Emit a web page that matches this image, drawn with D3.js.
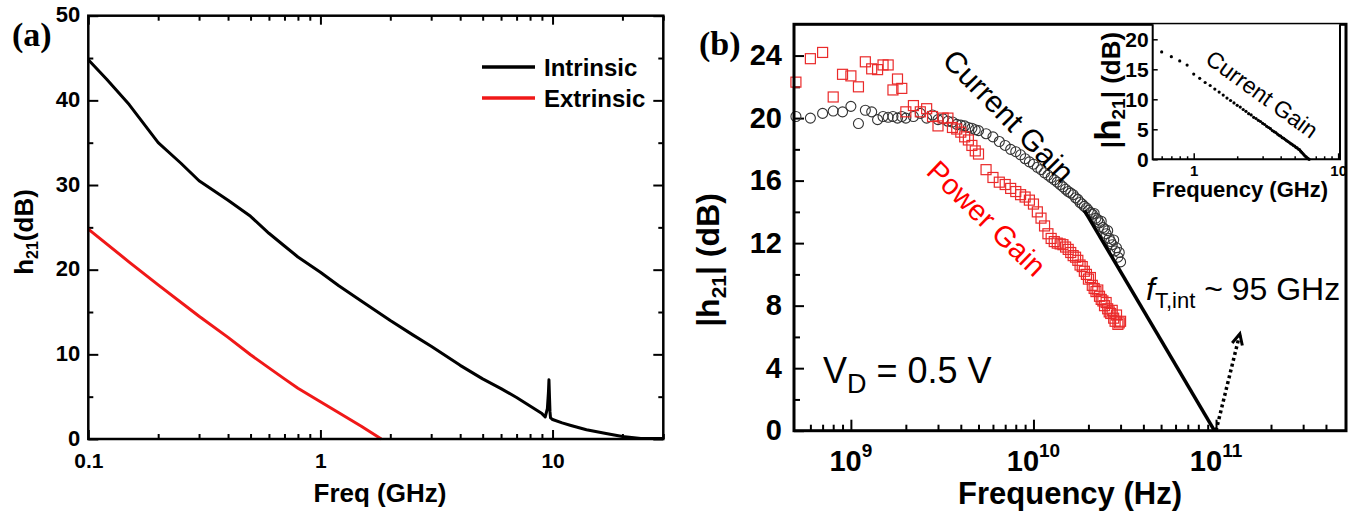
<!DOCTYPE html>
<html><head><meta charset="utf-8">
<script src="https://cdn.jsdelivr.net/npm/d3@7"></script>
<style>
body{margin:0;background:#fff;}
svg{display:block;background:#fff;}
</style></head><body>
<svg id="c" width="1359" height="519"></svg>
<script>
// ---------------- DATA ----------------
// Panel (a): h21 vs frequency (GHz)
const aIntFreq = [0.1,0.12,0.15,0.2,0.25,0.3,0.4,0.5,0.6,0.7,0.8,1.0,1.2,1.5,2,2.5,3,4,5,6,7,8,9,9.3,9.5,9.6,9.65,9.7,9.75,9.8,9.9,10,11,12,14,17,20,24,27,30];
const aIntDB   = [44.8,42.5,39.5,35.0,32.6,30.5,28.2,26.3,24.3,22.8,21.5,19.7,18.1,16.3,14.0,12.3,10.95,8.7,7.1,5.95,4.9,3.9,3.0,2.6,3.6,5.5,7.0,5.0,3.2,2.5,2.4,2.3,1.9,1.6,1.1,0.65,0.3,0.05,0.05,0.05];
const aExtFreq = [0.1,0.15,0.2,0.3,0.4,0.5,0.6,0.7,0.8,1.0,1.2,1.5,1.83];
const aExtDB   = [24.8,20.9,18.2,14.5,12.0,9.95,8.4,7.1,6.0,4.4,3.1,1.5,0];
const aSeriesNames = ["Intrinsic","Extrinsic"];
const aXTicks = [0.1,1,10];
const aXTickLabels = ["0.1","1","10"];
const aXMinor = [0.2,0.3,0.4,0.5,0.6,0.7,0.8,0.9,2,3,4,5,6,7,8,9,20,30];
const aYTicks = [0,10,20,30,40,50];
const aYMinor = [5,15,25,35,45];

// Panel (b): gains vs frequency (GHz)
const bFreq = [0.5,0.6,0.7,0.8,0.9,1.0,1.1,1.2,1.3,1.4,1.5,1.6,1.7,1.8,1.9,2.0,
  2.2,2.4,2.6,2.8,3.0,3.2,3.4,3.6,3.8,4.0,4.2,4.4,4.6,4.8,5.0,
  5.5,6.0,6.5,7.0,7.5,8.0,8.5,9.0,9.5,10,10.5,11,11.5,12,12.5,13,13.5,14,14.5,15,
  15.5,16,16.5,17,17.5,18,18.5,19,19.5,20,20.5,21,21.5,22,22.5,23,23.5,24,24.5,25,
  25.5,26,26.5,27,27.5,28,28.5,29,29.5,30];
const bCurrentGain = [20.1,20.0,20.3,20.45,20.4,20.75,19.65,20.5,20.4,19.9,20.1,20.05,20.1,20.0,20.1,20.0,
  20.1,20.3,20.0,20.2,19.9,19.95,19.8,19.75,19.6,19.55,19.5,19.4,19.35,19.25,19.2,
  19.0,18.8,18.5,18.25,18.0,17.85,17.65,17.4,17.2,17.05,16.85,16.7,16.5,16.35,16.2,16.05,15.9,15.75,15.6,15.45,
  15.3,15.2,15.1,14.9,14.8,14.6,14.5,14.35,14.25,14.1,13.95,13.85,13.9,13.6,13.5,13.3,13.4,13.0,12.9,12.6,
  12.8,12.3,12.1,11.9,12.2,11.5,11.7,11.1,11.4,10.8];
const bPowerGain = [22.3,23.8,24.2,21.35,22.8,22.7,22.0,23.6,23.15,23.1,23.4,23.4,21.8,22.5,21.9,20.4,
  20.8,20.4,20.6,20.1,19.5,20.0,20.0,19.4,19.3,19.1,18.8,18.6,18.25,17.9,17.7,
  16.7,16.2,15.9,15.75,15.5,15.3,15.1,14.95,14.75,14.5,14.0,13.6,13.1,12.6,12.3,12.1,12.0,11.95,11.9,11.75,
  11.6,11.4,11.2,11.1,10.9,10.6,10.5,10.2,10.0,9.7,9.8,9.3,9.1,8.9,9.0,8.6,8.4,8.3,8.0,8.2,
  7.8,7.6,7.5,7.7,7.2,7.0,7.4,6.8,6.9,7.0];
const bFitFreq = [19, 98];     // GHz, extrapolation line
const bFitDB   = [14.1, 0];
const bArrowFreq = [100, 135]; // GHz, dotted arrow
const bArrowDB   = [0, 6.2];
const bXTicksHz = [1e9,1e10,1e11];
const bXTickExp = ["9","10","11"];
const bXMinorHz = [6e8,7e8,8e8,9e8,2e9,3e9,4e9,5e9,6e9,7e9,8e9,9e9,2e10,3e10,4e10,5e10,6e10,7e10,8e10,9e10,2e11,3e11,4e11];
const bYTicks = [0,4,8,12,16,20,24];
const bYMinor = [2,6,10,14,18,22];

// Inset: current gain (GHz, dB)
const iFreq = [0.6,0.7,0.8,0.9,1.0,1.1,1.2,1.3,1.4,1.5,1.6,1.7,1.8,1.9,2.0,2.1,2.2,2.3,2.4,2.5,2.6,2.7,2.8,2.9,3.0,
  3.1,3.2,3.3,3.4,3.5,3.6,3.7,3.8,3.9,4.0,4.1,4.2,4.3,4.4,4.5,4.6,4.7,4.8,4.9,5.0,5.1,5.2,5.3,5.4,5.5,5.6,5.7,5.8,5.9,6.0,6.1,6.2,6.3];
const iGain = [17.9,17.1,16.4,15.7,14.2,13.5,12.8,12.3,11.7,11.2,10.7,10.2,9.8,9.4,9.0,8.7,8.3,8.0,7.6,7.4,7.0,6.8,6.5,6.3,6.0,
  5.8,5.5,5.3,5.1,4.8,4.6,4.45,4.2,4.0,3.85,3.6,3.5,3.3,3.1,2.95,2.8,2.6,2.5,2.3,2.2,2.0,1.9,1.7,1.6,1.35,1.15,0.95,0.75,0.55,0.4,0.25,0.1,0.0];
const iXTicks = [1,10];
const iXMinor = [0.6,0.7,0.8,0.9,2,3,4,5,6,7,8,9];
const iYTicks = [0,5,10,15,20];

// ---------------- DRAW ----------------
const SANS = "'Liberation Sans', Arial, sans-serif";
const SERIF = "'Liberation Serif', 'Times New Roman', serif";
const svg = d3.select("#c");

function styleAxis(g, fs){
  g.select(".domain").remove();
  g.selectAll(".tick line").attr("stroke","#000").attr("stroke-width",2);
  g.selectAll(".tick text").attr("font-family",SANS).attr("font-weight","bold")
    .attr("font-size",fs).attr("fill","#000");
  g.attr("font-family",null).attr("font-size",null);
}

// ===== Panel A =====
const A = {l:88.3, r:663.3, t:15.7, b:439};
const xA = d3.scaleLog().domain([0.1, 30]).range([A.l, A.r]);
const yA = d3.scaleLinear().domain([0, 50]).range([A.b, A.t]);
const gA = svg.append("g");

gA.append("g").attr("transform",`translate(0,${A.b})`)
  .call(d3.axisBottom(xA).tickValues(aXTicks).tickSize(-9).tickPadding(14).tickFormat((d,i)=>aXTickLabels[i]))
  .call(g=>styleAxis(g,21));
gA.append("g").attr("transform",`translate(0,${A.b})`)
  .call(d3.axisBottom(xA).tickValues(aXMinor).tickSize(-5).tickFormat(""))
  .call(g=>styleAxis(g,21));
gA.append("g").attr("transform",`translate(0,${A.t})`)
  .call(d3.axisTop(xA).tickValues(aXTicks).tickSize(-9).tickFormat(""))
  .call(g=>styleAxis(g,21));
gA.append("g").attr("transform",`translate(0,${A.t})`)
  .call(d3.axisTop(xA).tickValues(aXMinor).tickSize(-5).tickFormat(""))
  .call(g=>styleAxis(g,21));
gA.append("g").attr("transform",`translate(${A.l},0)`)
  .call(d3.axisLeft(yA).tickValues(aYTicks).tickSize(-10).tickPadding(8).tickFormat(d3.format("d")))
  .call(g=>styleAxis(g,22))
  .call(g=>g.selectAll(".tick text").attr("dy","0.28em"));
gA.append("g").attr("transform",`translate(${A.l},0)`)
  .call(d3.axisLeft(yA).tickValues(aYMinor).tickSize(-5).tickFormat(""))
  .call(g=>styleAxis(g,22));
gA.append("g").attr("transform",`translate(${A.r},0)`)
  .call(d3.axisRight(yA).tickValues(aYTicks).tickSize(-10).tickFormat(""))
  .call(g=>styleAxis(g,22));
gA.append("g").attr("transform",`translate(${A.r},0)`)
  .call(d3.axisRight(yA).tickValues(aYMinor).tickSize(-5).tickFormat(""))
  .call(g=>styleAxis(g,22));

const lineA = d3.line().x(d=>xA(d[0])).y(d=>yA(d[1]));
gA.append("path").datum(aExtFreq.map((f,i)=>[f,aExtDB[i]]))
  .attr("d",lineA).attr("fill","none").attr("stroke","#f01818").attr("stroke-width",3).attr("stroke-linejoin","round");
gA.append("path").datum(aIntFreq.map((f,i)=>[f,aIntDB[i]]))
  .attr("d",lineA).attr("fill","none").attr("stroke","#000").attr("stroke-width",3).attr("stroke-linejoin","round");

gA.append("rect").attr("x",A.l).attr("y",A.t).attr("width",A.r-A.l).attr("height",A.b-A.t)
  .attr("fill","none").attr("stroke","#000").attr("stroke-width",2.5);

const legColors = ["#000","#f01818"];
aSeriesNames.forEach((n,i)=>{
  const y = 67 + i*31;
  gA.append("line").attr("x1",482).attr("x2",535).attr("y1",y).attr("y2",y)
    .attr("stroke",legColors[i]).attr("stroke-width",3.5);
  gA.append("text").attr("x",544).attr("y",y+8.5).text(n)
    .attr("font-family",SANS).attr("font-weight","bold").attr("font-size",24);
});

gA.append("text").attr("x",12).attr("y",46).text("(a)")
  .attr("font-family",SERIF).attr("font-weight","bold").attr("font-size",34);
gA.append("text").attr("x",380).attr("y",502).attr("text-anchor","middle").text("Freq (GHz)")
  .attr("font-family",SANS).attr("font-weight","bold").attr("font-size",26);
const ylA = gA.append("text").attr("transform","translate(33,232) rotate(-90)").attr("text-anchor","middle")
  .attr("font-family",SANS).attr("font-weight","bold").attr("font-size",26);
ylA.append("tspan").text("h");
ylA.append("tspan").text("21").attr("font-size",16).attr("dy",5);
ylA.append("tspan").text("(dB)").attr("dy",-5);

// ===== Panel B =====
const B = {l:794, r:1346, t:24.3, b:430.7};
const xB = d3.scaleLog().domain([4.88e8, 5.15e11]).range([B.l, B.r]);
const yB = d3.scaleLinear().domain([0, 26]).range([B.b, B.t]);
const gB = svg.append("g");

gB.append("g").attr("transform",`translate(0,${B.b})`)
  .call(d3.axisBottom(xB).tickValues(bXTicksHz).tickSize(-11).tickFormat(""))
  .call(g=>styleAxis(g,29));
gB.append("g").attr("transform",`translate(0,${B.b})`)
  .call(d3.axisBottom(xB).tickValues(bXMinorHz).tickSize(-6).tickFormat(""))
  .call(g=>styleAxis(g,29));
bXTicksHz.forEach((v,i)=>{
  const t = gB.append("text").attr("x",xB(v)).attr("y",471).attr("text-anchor","middle")
    .attr("font-family",SANS).attr("font-weight","bold").attr("font-size",29);
  t.append("tspan").text("10");
  t.append("tspan").text(bXTickExp[i]).attr("font-size",19).attr("dy",-14);
});
gB.append("g").attr("transform",`translate(${B.l},0)`)
  .call(d3.axisLeft(yB).tickValues(bYTicks).tickSize(-10).tickPadding(12).tickFormat(d3.format("d")))
  .call(g=>styleAxis(g,29));
gB.append("g").attr("transform",`translate(${B.l},0)`)
  .call(d3.axisLeft(yB).tickValues(bYMinor).tickSize(-6).tickFormat(""))
  .call(g=>styleAxis(g,29));

const cg = bFreq.map((f,i)=>[f*1e9,bCurrentGain[i]]);
const pg = bFreq.map((f,i)=>[f*1e9,bPowerGain[i]]);
gB.append("g").selectAll("circle").data(cg).join("circle")
  .attr("cx",d=>xB(d[0])).attr("cy",d=>yB(d[1])).attr("r",5)
  .attr("fill","none").attr("stroke","#333").attr("stroke-width",1.1);
gB.append("g").selectAll("rect").data(pg).join("rect")
  .attr("x",d=>xB(d[0])-5).attr("y",d=>yB(d[1])-5).attr("width",10).attr("height",10)
  .attr("fill","none").attr("stroke","#ea2a2a").attr("stroke-width",1.2);

const lineB = d3.line().x(d=>xB(d[0]*1e9)).y(d=>yB(d[1]));
gB.append("path").datum(bFitFreq.map((f,i)=>[f,bFitDB[i]])).attr("d",lineB)
  .attr("fill","none").attr("stroke","#000").attr("stroke-width",3.5);
const arrPts = bArrowFreq.map((f,i)=>[xB(f*1e9), yB(bArrowDB[i])]);
gB.append("line").attr("x1",arrPts[0][0]).attr("y1",arrPts[0][1]).attr("x2",arrPts[1][0]).attr("y2",arrPts[1][1])
  .attr("stroke","#000").attr("stroke-width",3.5).attr("stroke-dasharray","3,3");
{
  const [p0,p1] = arrPts;
  const ang = Math.atan2(p0[1]-p1[1], p0[0]-p1[0]);
  const L = 12, s = 0.45;
  const a1 = [p1[0]+L*Math.cos(ang+s), p1[1]+L*Math.sin(ang+s)];
  const a2 = [p1[0]+L*Math.cos(ang-s), p1[1]+L*Math.sin(ang-s)];
  gB.append("path").attr("d",`M${a1}L${p1}L${a2}`).attr("fill","none")
    .attr("stroke","#000").attr("stroke-width",3).attr("stroke-linejoin","miter");
}

gB.append("rect").attr("x",B.l).attr("y",B.t).attr("width",B.r-B.l).attr("height",B.b-B.t)
  .attr("fill","none").attr("stroke","#000").attr("stroke-width",3);

gB.append("text").attr("x",699).attr("y",55).text("(b)")
  .attr("font-family",SERIF).attr("font-weight","bold").attr("font-size",34);
gB.append("text").attr("x",1070).attr("y",504).attr("text-anchor","middle").text("Frequency (Hz)")
  .attr("font-family",SANS).attr("font-weight","bold").attr("font-size",31);
const ylB = gB.append("text").attr("transform","translate(719,260) rotate(-90)").attr("text-anchor","middle")
  .attr("font-family",SANS).attr("font-weight","bold").attr("font-size",32);
ylB.append("tspan").text("|h");
ylB.append("tspan").text("21").attr("font-size",21).attr("dy",7);
ylB.append("tspan").text("|  (dB)").attr("dy",-7);

const vd = gB.append("text").attr("x",823).attr("y",383).attr("font-family",SANS).attr("font-size",36);
vd.append("tspan").text("V");
vd.append("tspan").text("D").attr("font-size",27).attr("dy",10);
vd.append("tspan").text(" = 0.5 V").attr("dy",-10);

const ft = gB.append("text").attr("x",1146).attr("y",300).attr("font-family",SANS).attr("font-size",32);
ft.append("tspan").text("f").attr("font-style","italic");
ft.append("tspan").text("T,int").attr("font-size",22).attr("dy",8);
ft.append("tspan").text(" ~ 95 GHz").attr("dy",-8);

gB.append("text").attr("transform","translate(941,62) rotate(45.5)").text("Current Gain")
  .attr("font-family",SANS).attr("font-size",30).attr("fill","#000");
gB.append("text").attr("transform","translate(925,173) rotate(44)").text("Power Gain")
  .attr("font-family",SANS).attr("font-size",29).attr("fill","#f00");

// ===== Inset =====
const I = {l:1152.7, r:1340, t:24.3, b:159.3};
const xI = d3.scaleLog().domain([0.52, 10.3]).range([I.l, I.r]);
const yI = d3.scaleLinear().domain([0, 22.5]).range([I.b, I.t]);
const gI = svg.append("g");
gI.append("rect").attr("x",I.l).attr("y",I.t).attr("width",I.r-I.l).attr("height",I.b-I.t).attr("fill","#fff");
gI.append("g").attr("transform",`translate(0,${I.b})`)
  .call(d3.axisBottom(xI).tickValues(iXTicks).tickSize(-6).tickPadding(6).tickFormat(d3.format("d")))
  .call(g=>styleAxis(g,15));
gI.append("g").attr("transform",`translate(0,${I.b})`)
  .call(d3.axisBottom(xI).tickValues(iXMinor).tickSize(-3).tickFormat(""))
  .call(g=>styleAxis(g,15));
gI.append("g").attr("transform",`translate(${I.l},0)`)
  .call(d3.axisLeft(yI).tickValues(iYTicks).tickSize(-5).tickPadding(4).tickFormat(d3.format("d")))
  .call(g=>styleAxis(g,21));
gI.selectAll(".tick line").attr("stroke-width",1.5);
gI.append("g").selectAll("circle").data(iFreq.map((f,i)=>[f,iGain[i]])).join("circle")
  .attr("cx",d=>xI(d[0])).attr("cy",d=>yI(d[1])).attr("r",1.6).attr("fill","#000");
gI.append("path").attr("d",`M${I.l},${I.t}V${I.b}H${I.r}V${I.t}`)
  .attr("fill","none").attr("stroke","#000").attr("stroke-width",2);
gI.append("text").attr("x",1240).attr("y",197).attr("text-anchor","middle").text("Frequency (GHz)")
  .attr("font-family",SANS).attr("font-weight","bold").attr("font-size",22);
const ylI = gI.append("text").attr("transform","translate(1120,90) rotate(-90)").attr("text-anchor","middle")
  .attr("font-family",SANS).attr("font-weight","bold").attr("font-size",26);
ylI.append("tspan").text("|");
ylI.append("tspan").text("h").attr("font-size",35);
ylI.append("tspan").text("21").attr("font-size",19).attr("dy",5);
ylI.append("tspan").text("| (dB)").attr("dy",-5);
gI.append("text").attr("transform","translate(1204,62) rotate(36)").text("Current Gain")
  .attr("font-family",SANS).attr("font-size",23);
</script>
</body></html>
